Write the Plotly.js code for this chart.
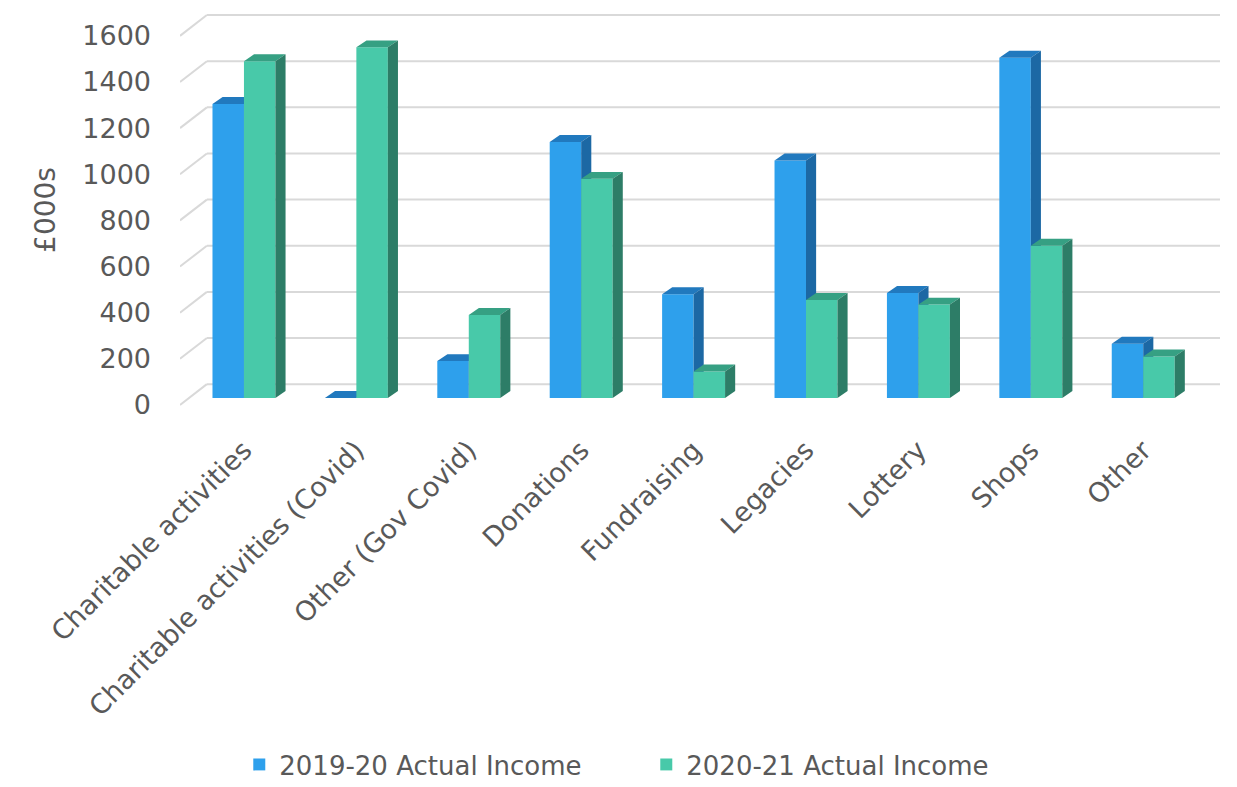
<!DOCTYPE html>
<html>
<head>
<meta charset="utf-8">
<script src="https://cdn.plot.ly/plotly-3.0.1.min.js"></script>
<style>
  html, body { margin: 0; padding: 0; background: #ffffff; }
  #chart { width: 1237px; height: 787px; }
</style>
</head>
<body>
<div id="chart"></div>
<script>
// ---- data ----
const categories = [
  "Charitable activities",
  "Charitable activities (Covid)",
  "Other (Gov Covid)",
  "Donations",
  "Fundraising",
  "Legacies",
  "Lottery",
  "Shops",
  "Other"
];
const income2019 = [1275, 0, 160, 1110, 450, 1030, 455, 1475, 235];
const income2020 = [1460, 1520, 360, 950, 115, 425, 405, 660, 180];
const seriesNames = ["2019-20 Actual Income", "2020-21 Actual Income"];
const yTicks = [0, 200, 400, 600, 800, 1000, 1200, 1400, 1600];

// ---- 3D look geometry (axis units) ----
const BAR_W = 0.28;      // width of each bar front face
const DEPTH_X = 0.09;    // horizontal depth of bars
const DEPTH_Y = 30;      // vertical depth of bars
const BACK_OFF = 60;     // back wall offset relative to bar plane
const FRONT_OFF = -30;   // front plane offset relative to bar plane
const WALL_LEFT = -0.33; // back wall left edge
const X_RANGE = [-0.569, 8.683];
const Y_RANGE = [-52, 1682];

const FONT = "Century Gothic, 'DejaVu Sans', sans-serif";
const TEXT_COLOR = "#595959";

const colors = [
  { front: "#2EA0EC", top: "#2179BE", side: "#1C68A4" },
  { front: "#48C9A9", top: "#36A083", side: "#2D7D67" }
];

function faces(values, offset) {
  const f = { fx: [], fy: [], tx: [], ty: [], sx: [], sy: [] };
  values.forEach((v, i) => {
    const x0 = i + offset, x1 = x0 + BAR_W;
    f.fx.push(x0, x1, x1, x0, null); f.fy.push(0, 0, v, v, null);
    f.tx.push(x0, x1, x1 + DEPTH_X, x0 + DEPTH_X, null);
    f.ty.push(v, v, v + DEPTH_Y, v + DEPTH_Y, null);
    f.sx.push(x1, x1 + DEPTH_X, x1 + DEPTH_X, x1, null);
    f.sy.push(0, DEPTH_Y, v + DEPTH_Y, v, null);
  });
  return f;
}

const traces = [];
[income2019, income2020].forEach((vals, s) => {
  const f = faces(vals, s === 0 ? -BAR_W : 0);
  const c = colors[s];
  const base = { type: "scatter", mode: "none", fill: "toself", hoverinfo: "skip", showlegend: false };
  traces.push(Object.assign({}, base, { x: f.fx, y: f.fy, fillcolor: c.front, name: seriesNames[s] }));
  traces.push(Object.assign({}, base, { x: f.tx, y: f.ty, fillcolor: c.top }));
  traces.push(Object.assign({}, base, { x: f.sx, y: f.sy, fillcolor: c.side }));
});
// legend entries
seriesNames.forEach((n, s) => {
  traces.push({ type: "bar", x: [null], y: [null], name: n, marker: { color: colors[s].front }, hoverinfo: "skip" });
});

// gridlines on back wall plus diagonal connectors to the front plane
const shapes = [];
yTicks.forEach(t => {
  shapes.push({ type: "line", layer: "below", xref: "x", yref: "y",
    x0: WALL_LEFT, x1: X_RANGE[1], y0: t + BACK_OFF, y1: t + BACK_OFF,
    line: { color: "#D9D9D9", width: 2 } });
  shapes.push({ type: "line", layer: "below", xref: "x", yref: "y",
    x0: X_RANGE[0], x1: WALL_LEFT, y0: t + FRONT_OFF, y1: t + BACK_OFF,
    line: { color: "#D9D9D9", width: 2 } });
});

const layout = {
  width: 1237, height: 787,
  margin: { l: 180, r: 17, t: 10, b: 377, autoexpand: false },
  paper_bgcolor: "#ffffff", plot_bgcolor: "rgba(0,0,0,0)",
  font: { family: FONT, color: TEXT_COLOR },
  showlegend: true,
  hovermode: false,
  xaxis: {
    range: X_RANGE, showgrid: false, zeroline: false, showline: false,
    tickmode: "array", tickvals: categories.map((c, i) => i), ticktext: categories,
    tickangle: -45, ticks: "", ticklabelstandoff: 18,
    tickfont: { size: 27, color: TEXT_COLOR, family: FONT }
  },
  yaxis: {
    range: Y_RANGE, showgrid: false, zeroline: false, showline: false,
    tickmode: "array", tickvals: yTicks.map(t => t + FRONT_OFF), ticktext: yTicks.map(String),
    ticks: "", ticklabelstandoff: 28,
    tickfont: { size: 27, color: TEXT_COLOR, family: FONT },
    title: { text: "£000s", standoff: 18, font: { size: 28, color: TEXT_COLOR, family: FONT } }
  },
  legend: {
    orientation: "h", x: 0.057, xanchor: "left", y: -0.945, yanchor: "bottom",
    font: { size: 26, color: TEXT_COLOR, family: FONT },
    entrywidth: 362, entrywidthmode: "pixels",
    itemsizing: "constant"
  },
  shapes: shapes
};

Plotly.newPlot("chart", traces, layout, { displayModeBar: false, staticPlot: true });
</script>
</body>
</html>
